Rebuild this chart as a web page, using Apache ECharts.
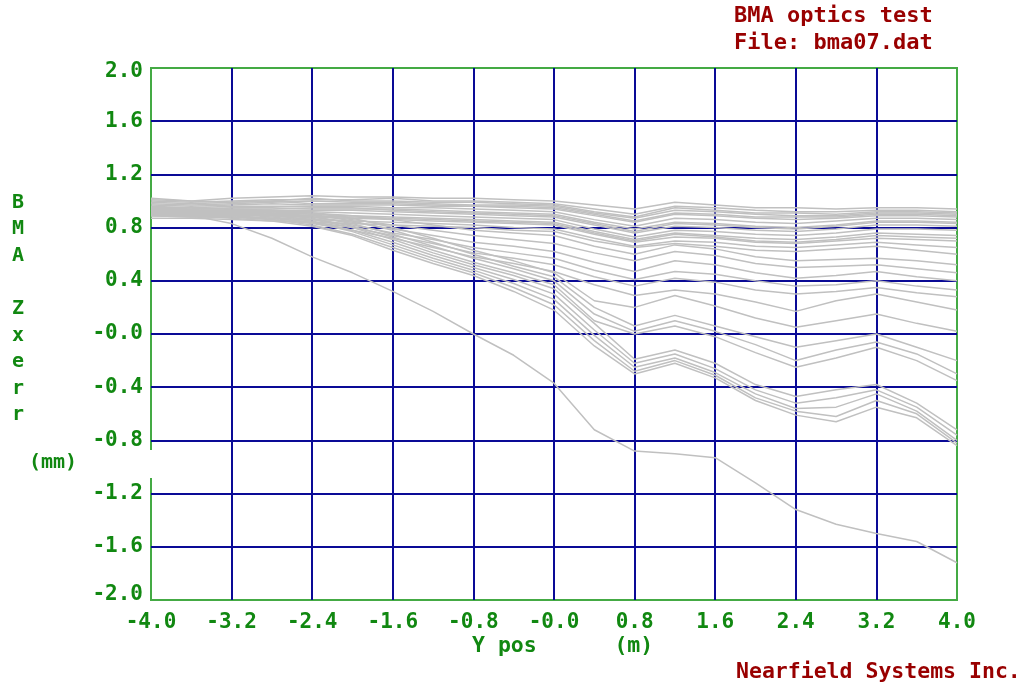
<!DOCTYPE html>
<html>
<head>
<meta charset="utf-8">
<script src="https://cdn.jsdelivr.net/npm/echarts@6/dist/echarts.min.js"></script>
<style>html,body{margin:0;padding:0;background:#fff}#chart{width:1024px;height:690px}</style>
</head>
<body>
<div id="chart"></div>
<script>
// X positions (m)
const xs = [-4.0,-3.6,-3.2,-2.8,-2.4,-2.0,-1.6,-1.2,-0.8,-0.4,0.0,0.4,0.8,1.2,1.6,2.0,2.4,2.8,3.2,3.6,4.0];

// Tick labels
const xTickLabels = ['-4.0','-3.2','-2.4','-1.6','-0.8','-0.0','0.8','1.6','2.4','3.2','4.0'];
const yTickLabels = ['-2.0','-1.6','-1.2','-0.8','-0.4','-0.0','0.4','0.8','1.2','1.6','2.0'];

// Upper cluster
const a1  = [1.02,1.00,1.02,1.03,1.04,1.03,1.03,1.02,1.02,1.01,1.00,0.97,0.94,0.99,0.97,0.95,0.95,0.94,0.95,0.95,0.94];
const a2  = [1.00,0.99,1.00,1.01,1.01,1.01,1.02,1.00,1.00,0.99,0.98,0.94,0.90,0.96,0.95,0.93,0.92,0.92,0.93,0.93,0.92];
const a13 = [1.01,1.00,0.99,1.00,1.02,1.00,1.00,0.99,0.99,0.98,0.97,0.92,0.88,0.95,0.93,0.91,0.91,0.90,0.92,0.92,0.91];
const a3  = [0.98,0.97,0.98,0.99,1.00,0.99,0.99,0.98,0.97,0.97,0.96,0.91,0.87,0.93,0.92,0.90,0.89,0.89,0.91,0.91,0.90];
const a14 = [0.99,0.98,0.99,1.00,0.98,0.98,0.98,0.97,0.96,0.96,0.95,0.90,0.85,0.91,0.90,0.88,0.88,0.88,0.90,0.90,0.89];
const a4  = [0.97,0.96,0.97,0.98,0.97,0.97,0.97,0.96,0.96,0.95,0.94,0.89,0.84,0.90,0.89,0.87,0.86,0.87,0.89,0.89,0.88];
const a5  = [0.96,0.95,0.96,0.96,0.96,0.96,0.95,0.95,0.94,0.93,0.92,0.86,0.81,0.87,0.86,0.84,0.83,0.85,0.87,0.87,0.86];
const a6  = [0.95,0.94,0.95,0.95,0.94,0.94,0.94,0.93,0.92,0.91,0.90,0.84,0.79,0.84,0.83,0.81,0.80,0.82,0.85,0.85,0.84];
const a15 = [0.95,0.95,0.94,0.94,0.95,0.95,0.93,0.92,0.91,0.90,0.89,0.83,0.77,0.83,0.82,0.80,0.79,0.81,0.84,0.84,0.83];
const a7  = [0.94,0.93,0.93,0.93,0.93,0.93,0.92,0.91,0.90,0.89,0.88,0.82,0.76,0.81,0.80,0.78,0.77,0.79,0.82,0.82,0.81];
const a8  = [0.93,0.92,0.92,0.92,0.92,0.91,0.90,0.89,0.88,0.87,0.86,0.79,0.73,0.78,0.77,0.75,0.74,0.76,0.79,0.79,0.78];
const a9  = [0.92,0.91,0.91,0.91,0.90,0.89,0.88,0.87,0.86,0.85,0.84,0.77,0.71,0.76,0.74,0.72,0.71,0.73,0.76,0.75,0.74];
const a16 = [0.91,0.90,0.89,0.90,0.89,0.88,0.87,0.86,0.85,0.84,0.83,0.76,0.70,0.75,0.73,0.70,0.69,0.71,0.74,0.73,0.72];
const a10 = [0.90,0.89,0.90,0.89,0.88,0.87,0.86,0.85,0.84,0.83,0.82,0.75,0.69,0.73,0.72,0.69,0.68,0.70,0.72,0.71,0.70];
const a11 = [0.89,0.88,0.88,0.87,0.86,0.85,0.84,0.83,0.82,0.80,0.79,0.72,0.66,0.70,0.69,0.66,0.65,0.67,0.69,0.67,0.65];
const a12 = [0.87,0.87,0.86,0.85,0.84,0.83,0.82,0.81,0.80,0.78,0.77,0.70,0.65,0.68,0.66,0.63,0.62,0.64,0.66,0.63,0.60];

// Middle group
const b1 = [0.94,0.93,0.93,0.92,0.91,0.89,0.86,0.82,0.78,0.76,0.74,0.66,0.60,0.67,0.64,0.58,0.55,0.56,0.57,0.55,0.52];
const b2 = [0.93,0.92,0.92,0.91,0.89,0.86,0.82,0.78,0.74,0.71,0.68,0.61,0.55,0.62,0.59,0.53,0.50,0.51,0.52,0.49,0.46];
const b3 = [0.92,0.91,0.91,0.90,0.88,0.84,0.79,0.74,0.69,0.66,0.62,0.54,0.47,0.55,0.52,0.46,0.42,0.44,0.47,0.43,0.40];
const b4 = [0.91,0.90,0.90,0.89,0.86,0.82,0.76,0.71,0.65,0.61,0.57,0.48,0.41,0.47,0.45,0.40,0.36,0.37,0.40,0.36,0.33];
const b5 = [0.90,0.89,0.89,0.87,0.84,0.80,0.74,0.68,0.61,0.57,0.52,0.43,0.36,0.42,0.39,0.33,0.30,0.32,0.35,0.31,0.28];
const b6 = [0.89,0.88,0.88,0.86,0.83,0.78,0.72,0.65,0.58,0.53,0.47,0.37,0.29,0.33,0.30,0.24,0.17,0.25,0.30,0.24,0.18];

// Lower-middle group
const c1 = [0.95,0.94,0.94,0.93,0.91,0.87,0.80,0.72,0.63,0.55,0.46,0.25,0.20,0.29,0.21,0.12,0.05,0.10,0.15,0.08,0.02];
const c2 = [0.94,0.93,0.93,0.92,0.90,0.85,0.78,0.69,0.60,0.51,0.43,0.20,0.06,0.14,0.06,-0.02,-0.10,-0.05,0.00,-0.10,-0.20];
const c3 = [0.93,0.93,0.92,0.91,0.88,0.83,0.75,0.66,0.57,0.49,0.40,0.15,0.02,0.10,0.02,-0.08,-0.20,-0.12,-0.06,-0.15,-0.30];
const c4 = [0.92,0.92,0.91,0.90,0.87,0.81,0.73,0.63,0.54,0.46,0.37,0.10,0.00,0.06,-0.02,-0.14,-0.25,-0.18,-0.10,-0.20,-0.35];

// Lower group
const d1 = [0.92,0.91,0.91,0.89,0.86,0.80,0.71,0.61,0.52,0.44,0.34,0.08,-0.19,-0.12,-0.22,-0.38,-0.47,-0.42,-0.38,-0.52,-0.72];
const d2 = [0.91,0.91,0.90,0.88,0.85,0.78,0.69,0.59,0.50,0.41,0.30,0.03,-0.22,-0.15,-0.26,-0.42,-0.52,-0.48,-0.42,-0.55,-0.76];
const d3 = [0.90,0.90,0.89,0.87,0.84,0.77,0.67,0.57,0.48,0.38,0.26,-0.01,-0.25,-0.18,-0.29,-0.45,-0.56,-0.55,-0.45,-0.58,-0.80];
const d4 = [0.90,0.89,0.88,0.86,0.82,0.75,0.65,0.55,0.46,0.35,0.22,-0.05,-0.28,-0.20,-0.31,-0.48,-0.58,-0.62,-0.50,-0.60,-0.82];
const d5 = [0.89,0.89,0.87,0.85,0.81,0.74,0.63,0.53,0.44,0.32,0.18,-0.09,-0.30,-0.22,-0.33,-0.50,-0.61,-0.66,-0.55,-0.63,-0.84];

// Outlier
const e1 = [0.93,0.89,0.83,0.72,0.58,0.46,0.32,0.17,0.00,-0.16,-0.37,-0.72,-0.88,-0.90,-0.93,-1.12,-1.32,-1.43,-1.50,-1.56,-1.72];

const allLines = [a1,a2,a13,a3,a14,a4,a5,a6,a15,a7,a8,a9,a16,a10,a11,a12,b1,b2,b3,b4,b5,b6,c1,c2,c3,c4,d1,d2,d3,d4,d5,e1];

const GREEN_TXT = '#118811';
const GREEN_FRAME = '#44aa44';
const NAVY = '#0a0a96';
const RED = '#990000';
const FONT = '"DejaVu Sans Mono", "Liberation Mono", monospace';

const chart = echarts.init(document.getElementById('chart'), null, {renderer: 'canvas'});

const series = allLines.map(ys => ({
  type: 'line',
  data: xs.map((x, i) => [x, ys[i]]),
  showSymbol: false,
  symbol: 'none',
  lineStyle: {color: '#c0c0c0', width: 1.5},
  silent: true,
  animation: false,
  z: 3
}));

chart.setOption({
  backgroundColor: '#ffffff',
  animation: false,
  grid: {
    left: 151, right: 67, top: 68, bottom: 90,
    show: true, borderColor: GREEN_FRAME, borderWidth: 2, backgroundColor: '#ffffff'
  },
  xAxis: {
    type: 'value', min: -4, max: 4, interval: 0.8,
    axisLine: {show: false}, axisTick: {show: false},
    splitLine: {show: true, showMinLine: false, showMaxLine: false, lineStyle: {color: NAVY, width: 2}},
    axisLabel: {
      margin: 12, color: GREEN_TXT, fontFamily: FONT, fontWeight: 'bold', fontSize: 21,
      formatter: (v, i) => xTickLabels[i] !== undefined ? xTickLabels[i] : v.toFixed(1),
      showMinLabel: true, showMaxLabel: true
    }
  },
  yAxis: {
    type: 'value', min: -2, max: 2, interval: 0.4,
    axisLine: {show: false}, axisTick: {show: false},
    splitLine: {show: true, showMinLine: false, showMaxLine: false, lineStyle: {color: NAVY, width: 2}},
    axisLabel: {
      margin: 8, color: GREEN_TXT, fontFamily: FONT, fontWeight: 'bold', fontSize: 21,
      formatter: (v, i) => {
        const s = yTickLabels[i] !== undefined ? yTickLabels[i] : v.toFixed(1);
        if (i === 0) return '{b|' + s + '}';
        if (i === yTickLabels.length - 1) return '{t|' + s + '}';
        return s;
      },
      rich: {
        t: {padding: [8, 0, 0, 0], color: GREEN_TXT, fontFamily: FONT, fontWeight: 'bold', fontSize: 21},
        b: {padding: [0, 0, 10, 0], color: GREEN_TXT, fontFamily: FONT, fontWeight: 'bold', fontSize: 21}
      },
      showMinLabel: true, showMaxLabel: true
    }
  },
  graphic: [
    {type: 'rect', left: 148, top: 450, shape: {width: 5, height: 28}, style: {fill: '#ffffff'}, z: 10},
    {type: 'text', left: 734, top: 5, style: {text: 'BMA optics test', fill: RED, font: 'bold 22px ' + FONT}},
    {type: 'text', left: 734, top: 32, style: {text: 'File: bma07.dat', fill: RED, font: 'bold 22px ' + FONT}},
    {type: 'text', left: 12, top: 189, style: {text: 'B\nM\nA\n\nZ\nx\ne\nr\nr', fill: GREEN_TXT, font: 'bold 20px ' + FONT, lineHeight: 26.6}},
    {type: 'text', left: 29, top: 453, style: {text: '(mm)', fill: GREEN_TXT, font: 'bold 20px ' + FONT}},
    {type: 'text', left: 472, top: 635, style: {text: 'Y pos      (m)', fill: GREEN_TXT, font: 'bold 21.5px ' + FONT}},
    {type: 'text', left: 736, top: 661, style: {text: 'Nearfield Systems Inc.', fill: RED, font: 'bold 21.5px ' + FONT}}
  ],
  series: series
});
</script>
</body>
</html>
